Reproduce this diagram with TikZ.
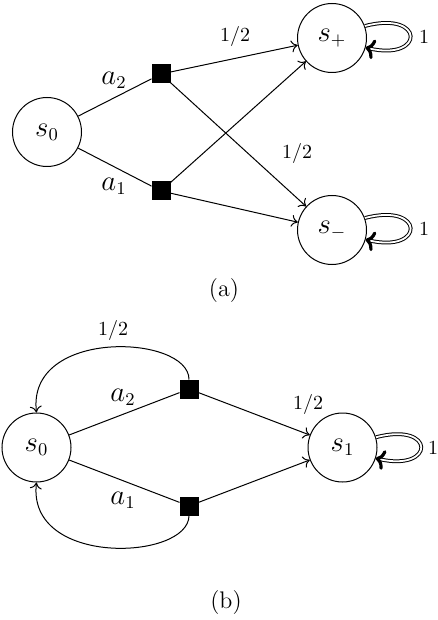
\documentclass[tikz,border=0pt]{standalone}
\usetikzlibrary{arrows.meta}
\begin{document}
\begin{tikzpicture}[x=0.5pt,y=-0.5pt,line width=0.5pt,
  state/.style={circle,draw,inner sep=0pt,minimum size=34.5pt,font=\fontsize{13.5}{16}\selectfont},
  chance/.style={rectangle,fill=black,draw=black,inner sep=0pt,minimum size=9pt},
  act/.style={font=\fontsize{13.5}{16}\selectfont},
  prob/.style={font=\fontsize{10}{12}\selectfont},
  captext/.style={font=\rmfamily\fontsize{12}{14}\selectfont},
  trans/.style={-{To[length=3.2pt,width=6pt]}},
  selfloop/.style={double,double distance=0.9pt,line width=0.5pt,
    -{Computer Modern Rightarrow[line width=1.6pt,length=4.5pt,width=10pt]}}]
\useasboundingbox (0,0) rectangle (438,620);
% ---------- (a)
\node[state] (s0a) at (47,132) {$s_0$};
\node[chance] (q2a) at (161,74) {};
\node[chance] (q1a) at (161,191) {};
\node[state] (spa) at (332,38) {$s_+$};
\node[state] (sma) at (332,230) {$s_-$};
\draw (s0a) -- (q2a);
\draw (s0a) -- (q1a);
\draw[trans] (q2a) -- (spa);
\draw[trans] (q2a) -- (sma);
\draw[trans] (q1a) -- (spa);
\draw[trans] (q1a) -- (sma);
\draw[selfloop] (spa.20) .. controls +(60,-16) and +(60,14) .. (spa.-16);
\draw[selfloop] (sma.20) .. controls +(60,-16) and +(60,14) .. (sma.-16);
\node[act] (la2a) at (114,80) {$a_2$};
\node[act] (la1a) at (114,186) {$a_1$};
\node[prob] (p1a) at (235,37) {$1/2$};
\node[prob] (p2a) at (297,154) {$1/2$};
\node[prob] (o1a) at (424,37) {$1$};
\node[prob] (o2a) at (424,229) {$1$};
\node[captext] (capa) at (224,291) {(a)};
% ---------- (b)
\node[state] (s0b) at (36.5,447.5) {$s_0$};
\node[chance] (q2b) at (189,389) {};
\node[chance] (q1b) at (189,506) {};
\node[state] (s1b) at (342.5,447.5) {$s_1$};
\draw (s0b) -- (q2b);
\draw (s0b) -- (q1b);
\draw[trans] (q2b) -- (s1b);
\draw[trans] (q1b) -- (s1b);
\draw[trans] (q2b.north) .. controls +(0,-45) and +(-10,-85) .. (s0b.north);
\draw[trans] (q1b.south) .. controls +(0,45) and +(-10,85) .. (s0b.south);
\draw[selfloop] (s1b.17) .. controls +(60,-16) and +(60,14) .. (s1b.-18);
\node[prob] (p1b) at (113,330) {$1/2$};
\node[act] (la2b) at (123,397) {$a_2$};
\node[act] (la1b) at (123,500) {$a_1$};
\node[prob] (p2b) at (308,404) {$1/2$};
\node[prob] (o1b) at (433,448) {$1$};
\node[captext] (capb) at (226,603) {(b)};
\end{tikzpicture}
\end{document}
